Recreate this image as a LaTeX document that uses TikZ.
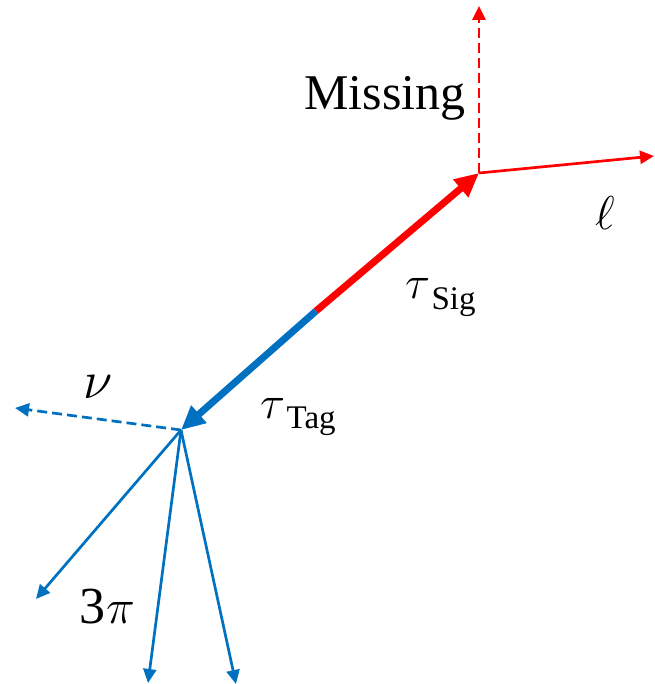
\documentclass[tikz,border=0pt]{standalone}
\usepackage{fontspec}
\setmainfont{Liberation Serif}
\usetikzlibrary{arrows.meta}
\definecolor{myred}{RGB}{255,0,0}
\definecolor{myblue}{RGB}{0,112,192}
\newcommand{\mysub}[2]{\kern1.5pt\raisebox{#1}{\fontsize{33}{37}\selectfont #2}}
\newcommand{\mglyph}[2]{\resizebox{!}{#1}{$#2$}}
\tikzset{
  thickarr/.style={line width=7pt,-{Triangle[length=24pt,width=22pt]}},
  thinarr/.style={line width=2.7pt,-{Triangle[length=14pt,width=13pt]}},
  dasharr/.style={thinarr,dash pattern=on 10pt off 5pt},
  lbl/.style={inner sep=0pt,anchor=base west,font=\fontsize{50}{56}\selectfont}
}
\begin{document}
\begin{tikzpicture}[x=1pt,y=-1pt]
\useasboundingbox (0,0) rectangle (654,684);
\coordinate (V) at (181,430);
\coordinate (R) at (479,173);
\coordinate (J) at (316,311);
\coordinate (up) at (479,6);
\coordinate (el) at (654,156);
\coordinate (nu) at (15,408);
\coordinate (p1) at (36,599);
\coordinate (p2) at (148,683);
\coordinate (p3) at (236,684);
\draw[myred,thickarr] (J) -- (R);
\draw[myblue,thickarr] (J) -- (V);
\draw[myred,dasharr] (R) -- (up);
\draw[myred,thinarr] (R) -- (el);
\draw[myblue,dasharr] (V) -- (nu);
\draw[myblue,thinarr] (V) -- (p1);
\draw[myblue,thinarr] (V) -- (p2);
\draw[myblue,thinarr] (V) -- (p3);
\node[lbl] (miss) at (304,110) {Missing};
\node[lbl] (ell) at (595,230) {\mglyph{33pt}{\ell}};
\node[lbl] (tsig) at (405,298) {\mglyph{20pt}{\tau}\mysub{-11pt}{Sig}};
\node[lbl] (ttag) at (260,418) {\mglyph{20pt}{\tau}\mysub{-10pt}{Tag}};
\node[lbl] (nul) at (83,398) {\mglyph{23pt}{\nu}};
\node[lbl] (pi) at (79,623) {\fontsize{52}{58}\selectfont 3\kern1pt\mglyph{21pt}{\pi}};
\end{tikzpicture}
\end{document}
